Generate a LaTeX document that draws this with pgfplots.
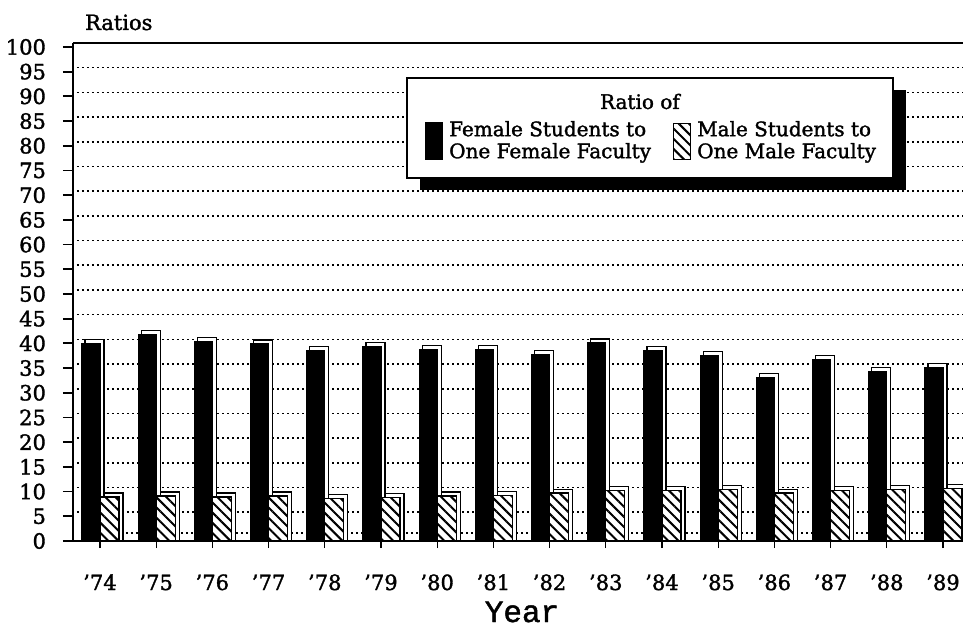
\documentclass[border=0pt]{standalone}
\usepackage{pgfplots}
\usepackage{pgfplotstable}
\pgfplotsset{compat=1.18}
\usetikzlibrary{patterns.meta}
\usepackage{fontspec}
\setmainfont{DejaVu Serif}[RawFeature={embolden=1.6}]
\newfontfamily\yearfont{Liberation Mono}[RawFeature={embolden=1.5}]

\pgfplotstableread{
x f m
0 40.0 8.9
1 41.8 9.1
2 40.4 8.9
3 39.9 9.1
4 38.6 8.6
5 39.3 8.8
6 38.8 9.1
7 38.8 9.2
8 37.8 9.7
9 40.1 10.3
10 38.5 10.3
11 37.5 10.5
12 33.1 9.7
13 36.7 10.3
14 34.3 10.5
15 35.1 10.7
}\datatable

\begin{document}
\begin{tikzpicture}
\begin{axis}[
  name=ax,
  width=445pt, height=249pt, scale only axis,
  xmin=-0.48, xmax=15.356, ymin=0, ymax=100.8,
  axis y line*=left,
  axis line style={line width=1.2pt},
  xtick={0,...,15},
  xticklabels={'74,'75,'76,'77,'78,'79,'80,'81,'82,'83,'84,'85,'86,'87,'88,'89},
  xtick pos=left,
  ytick={5,10,...,100},
  extra y ticks={0},
  extra y tick style={grid style={solid, line width=0.5pt, xshift=2pt, yshift=2pt}},
  tick align=outside,
  major tick length=5pt,
  xtick style={/pgfplots/major tick length=3.5pt, line width=0.6pt, black},
  ytick style={line width=0.9pt, black},
  ymajorgrids,
  major grid style={black, line width=0.8pt, dash pattern=on 0.9pt off 1.6pt, xshift=2pt, yshift=2pt},
  /pgf/number format/assume math mode=true,
  tick label style={font=\fontsize{10.5}{12}\selectfont},
  yticklabel style={xshift=-5pt},
  xticklabel style={anchor=base, yshift=-19.5pt},
  ylabel={Ratios},
  every axis y label/.style={at={(rel axis cs:0,1)}, anchor=base west, xshift=2.5pt, yshift=6.5pt, font=\fontsize{10.5}{12}\selectfont},
  xlabel={Year},
  every axis x label/.style={at={(rel axis cs:0.5045,0)}, anchor=base, yshift=-40.5pt, font=\yearfont\fontsize{15.5}{17}\selectfont},
  legend columns=2,
  legend style={at={(rel axis cs:0.3955,0.803)}, anchor=west, draw=none, fill=none, inner sep=0pt,
    font=\fontsize{10}{11}\selectfont, cells={align=left},
    /tikz/every odd column/.append style={column sep=1pt},
    /tikz/every even column/.append style={column sep=9pt}},
  legend cell align=left,
]
% 3D back faces
\addplot[ybar, bar width=9.5pt, bar shift=-2.75pt, fill=white, draw=black, line width=0.6pt, forget plot]
  table[x=x, y expr=\thisrow{f}+0.8] {\datatable};
\addplot[ybar, bar width=9.5pt, bar shift=6.75pt, fill=white, draw=black, line width=0.6pt, forget plot]
  table[x=x, y expr=\thisrow{m}+0.8] {\datatable};
% front faces
\addplot[ybar, bar width=9pt, bar shift=-4.5pt, fill=black, draw=black, line width=0.6pt, forget plot]
  table[x=x, y=f] {\datatable};
\addplot[ybar, bar width=9.5pt, bar shift=4.75pt, fill=white, draw=black, line width=0.6pt,
  postaction={pattern={Lines[angle=-45, distance=3.6pt, line width=1pt]}}, forget plot]
  table[x=x, y=m] {\datatable};

% legend box with shadow
\fill[black] ([xshift=6.5pt, yshift=-6pt]rel axis cs:0.3753,0.729) rectangle ([xshift=6.5pt, yshift=-6pt]rel axis cs:0.9213,0.9297);
\draw[fill=white, line width=1pt] (rel axis cs:0.3753,0.729) rectangle (rel axis cs:0.9213,0.9297);
\node[anchor=base, font=\fontsize{10}{12}\selectfont] at (rel axis cs:0.637,0.8675) {Ratio of};

\addlegendimage{legend image code/.code={\fill[black] (0pt,-9.25pt) rectangle (8.5pt,9.25pt);}}
\addlegendentry{Female Students to\\One Female Faculty}
\addlegendimage{legend image code/.code={\draw[fill=white, line width=0.6pt, postaction={pattern={Lines[angle=-45, distance=3.6pt, line width=1pt]}}] (0pt,-9pt) rectangle (8.5pt,9pt);}}
\addlegendentry{Male Students to\\One Male Faculty}
\end{axis}
\pgfresetboundingbox
\useasboundingbox ([shift={(-36.5pt,-42.5pt)}]ax.south west) rectangle ([shift={(0pt,21.5pt)}]ax.north east);
\end{tikzpicture}
\end{document}
